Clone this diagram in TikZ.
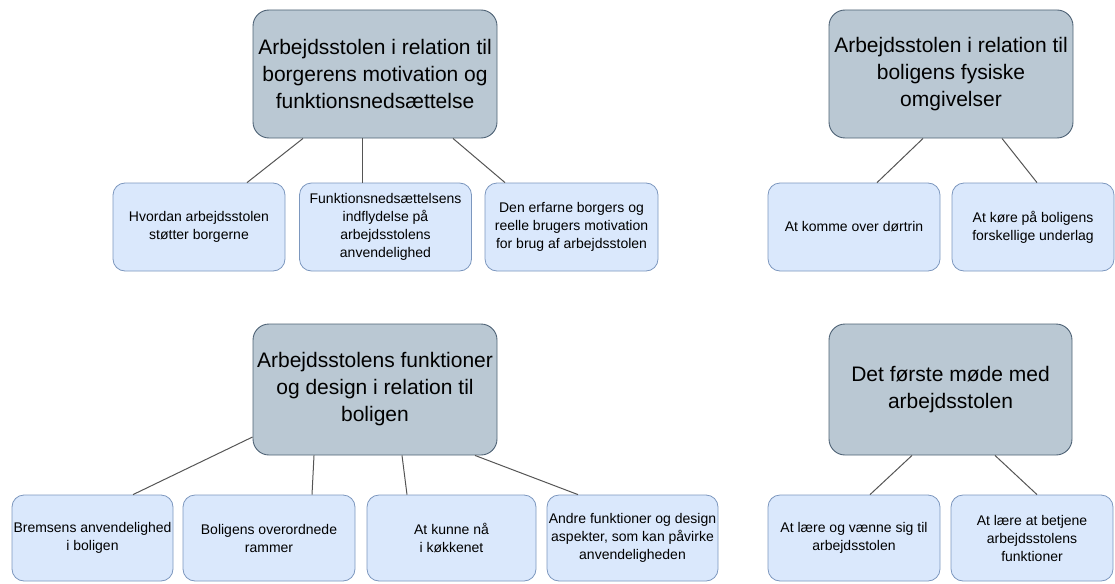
\documentclass[tikz,border=0pt]{standalone}
\usepackage{fontspec}
\setmainfont{Liberation Sans}
\definecolor{topfill}{HTML}{BAC8D3}
\definecolor{topline}{HTML}{4E6275}
\definecolor{subfill}{HTML}{DAE8FC}
\definecolor{subline}{HTML}{7C97BE}
\definecolor{linkcol}{HTML}{555555}
\tikzset{
  topic/.style={draw=topline, fill=topfill, line width=0.9pt, rounded corners=16pt,
    inner sep=0pt, align=center, font=\fontsize{21}{27}\selectfont},
  subtopic/.style={draw=subline, fill=subfill, line width=0.8pt, rounded corners=12pt,
    inner sep=0pt, align=center, font=\fontsize{14}{18}\selectfont},
  link/.style={draw=linkcol, line width=1pt}
}
\begin{document}
\begin{tikzpicture}[x=1pt, y=-1pt]
\useasboundingbox (0,0) rectangle (1115,583);

% main topics
\node[topic, minimum width=244pt, minimum height=128pt] (p1) at (375,74)
  {Arbejdsstolen i relation til\\borgerens motivation og\\funktionsnedsættelse};
\node[topic, minimum width=244pt, minimum height=128pt] (p2) at (951,74)
  {Arbejdsstolen i relation til\\boligens fysiske\\omgivelser};
\node[topic, minimum width=244pt, minimum height=131pt] (p3) at (375,389.5)
  {Arbejdsstolens funktioner\\og design i relation til\\boligen};
\node[topic, minimum width=243pt, minimum height=131pt] (p4) at (950.5,389.5)
  {Det første møde med\\arbejdsstolen};

% sub-topics, upper row
\node[subtopic, minimum width=172pt, minimum height=88pt] (a) at (199,227)
  {Hvordan arbejdsstolen\\støtter borgerne};
\node[subtopic, minimum width=172pt, minimum height=88pt] (b) at (385.5,227)
  {Funktionsnedsættelsens\\indflydelse på\\arbejdsstolens\\anvendelighed};
\node[subtopic, minimum width=173pt, minimum height=88pt] (c) at (571.5,227)
  {Den erfarne borgers og\\reelle brugers motivation\\for brug af arbejdsstolen};
\node[subtopic, minimum width=172pt, minimum height=88pt] (d) at (854,227)
  {At komme over dørtrin};
\node[subtopic, minimum width=162pt, minimum height=88pt] (e) at (1033,227)
  {At køre på boligens\\forskellige underlag};

% sub-topics, lower row
\node[subtopic, minimum width=161pt, minimum height=86pt] (f) at (92.5,538)
  {Bremsens anvendelighed\\i boligen};
\node[subtopic, minimum width=172pt, minimum height=86pt] (g) at (269,538)
  {Boligens overordnede\\rammer};
\node[subtopic, minimum width=169pt, minimum height=86pt] (h) at (451.5,538)
  {At kunne nå\\i køkkenet};
\node[subtopic, minimum width=171pt, minimum height=86pt] (i) at (632.5,538)
  {Andre funktioner og design\\aspekter, som kan påvirke\\anvendeligheden};
\node[subtopic, minimum width=172pt, minimum height=86pt] (j) at (854,538)
  {At lære og vænne sig til\\arbejdsstolen};
\node[subtopic, minimum width=162pt, minimum height=86pt] (k) at (1032,538)
  {At lære at betjene\\arbejdsstolens\\funktioner};

% connectors
\draw[link] ([xshift=-72pt]p1.south) -- ([xshift=48pt]a.north);
\draw[link] ([xshift=-13pt]p1.south) -- ([xshift=-23.5pt]b.north);
\draw[link] ([xshift=78pt]p1.south) -- ([xshift=-66.5pt]c.north);

\draw[link] ([xshift=-28pt]p2.south) -- ([xshift=23pt]d.north);
\draw[link] ([xshift=51pt]p2.south) -- ([xshift=4pt]e.north);

\draw[link] ([yshift=-47.5pt]p3.west) -- ([xshift=40.5pt]f.north);
\draw[link] ([xshift=-61pt]p3.south) -- ([xshift=43pt]g.north);
\draw[link] ([xshift=27pt]p3.south) -- ([xshift=-44.5pt]h.north);
\draw[link] ([xshift=100pt]p3.south) -- ([xshift=-54.5pt]i.north);

\draw[link] ([xshift=-38.5pt]p4.south) -- ([xshift=16pt]j.north);
\draw[link] ([xshift=44.5pt]p4.south) -- ([xshift=5pt]k.north);
\end{tikzpicture}
\end{document}
